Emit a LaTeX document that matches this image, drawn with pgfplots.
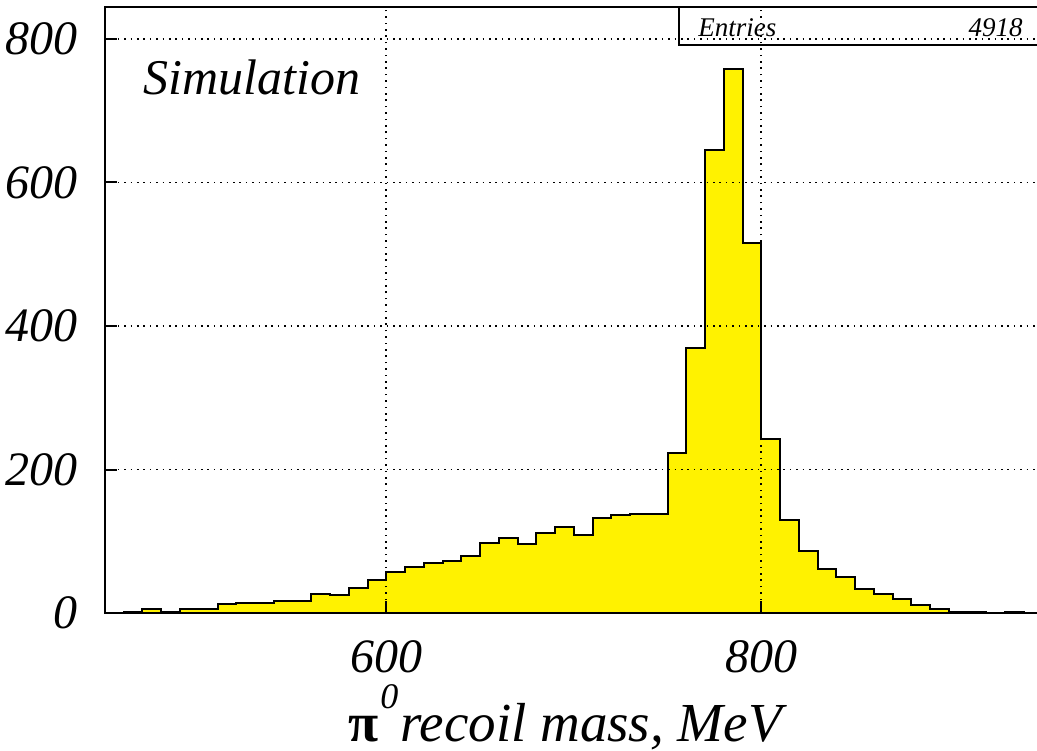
\documentclass[border=0pt]{standalone}
\usepackage{fontspec}
\setmainfont{Liberation Serif}
\usepackage{pgfplots}
\pgfplotsset{compat=1.18}
\begin{document}
\begin{tikzpicture}
\begin{axis}[
  scale only axis,
  width=468.75pt, height=303pt,
  at={(0,0)}, anchor=south west,
  xmin=450, xmax=950, ymin=0, ymax=844.6,
  xtick={600,800}, ytick={0,200,400,600,800},
  minor tick num=0,
  tick align=inside, tick pos=left,
  major tick length=6pt,
  tick style={black, line width=1pt},
  axis line style={line width=1pt},
  axis on top=true,
  grid=major,
  major grid style={black, line width=0.8pt, dash pattern=on 0.8pt off 2.4pt},
  /pgf/number format/assume math mode=true,
  ticklabel style={inner sep=0pt, font=\fontsize{24}{24}\selectfont\itshape},
  yticklabel style={anchor=east, xshift=-13.5pt},
  xticklabel style={anchor=north, yshift=-13.5pt},
]
\addplot[const plot, fill=yellow, draw=black, line width=1pt] coordinates {
(450,0) (460,2) (470,5) (480,1) (490,6)
(500,6) (510,12) (520,14) (530,14) (540,17)
(550,17) (560,27) (570,25) (580,35) (590,46)
(600,57) (610,64) (620,69) (630,73) (640,79)
(650,98) (660,105) (670,96) (680,111) (690,120)
(700,109) (710,133) (720,136) (730,138) (740,138)
(750,223) (760,369) (770,645) (780,758) (790,515)
(800,243) (810,129) (820,86) (830,61) (840,50)
(850,33) (860,26) (870,19) (880,11) (890,6)
(900,1) (910,1) (920,0) (930,1) (940,0) (950,0)
} \closedcycle;
\end{axis}
\draw[line width=0.7pt] (287pt,303pt) -- (287pt,284pt) -- (480pt,284pt);
\node[anchor=base west, inner sep=0pt, font=\fontsize{13.5}{14}\selectfont\itshape] at (296.5pt,288pt) {Entries};
\node[anchor=base east, inner sep=0pt, font=\fontsize{13.5}{14}\selectfont\itshape] at (459pt,288pt) {4918};
\node[anchor=base west, inner sep=0pt, font=\fontsize{25}{28}\selectfont\itshape] at (19pt,259pt) {Simulation};
\node[anchor=base, inner sep=0pt, font=\fontsize{27.5}{30}\selectfont\itshape] at (230pt,-64pt) {{\upshape\bfseries π}\hspace{1pt}\raisebox{16.5pt}{\fontsize{18}{18}\selectfont 0}\hspace{1pt}recoil mass, MeV};
\pgfresetboundingbox
\path[use as bounding box] (-52.5pt,-68.5pt) rectangle (466pt,306.5pt);
\end{tikzpicture}
\end{document}
